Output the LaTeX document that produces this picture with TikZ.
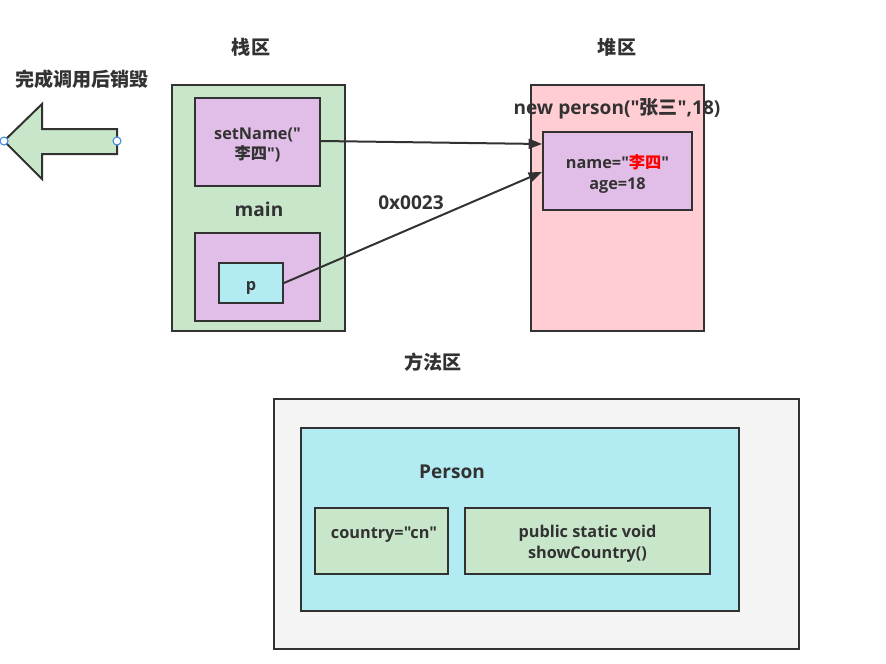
\documentclass[tikz,border=0pt]{standalone}
\usepackage{fontspec}
\setmainfont{Open Sans}[Ligatures=TeXOff]
\newfontfamily\cjk{Noto Sans CJK SC}
\usetikzlibrary{positioning, arrows.meta, fit}

\definecolor{linec}{HTML}{323232}
\definecolor{stackgreen}{HTML}{C8E6C9}
\definecolor{framepurple}{HTML}{E1BEE7}
\definecolor{refcyan}{HTML}{B2EBF2}
\definecolor{heappink}{HTML}{FFCDD2}
\definecolor{methodgray}{HTML}{F4F4F4}
\definecolor{handleblue}{HTML}{3D8FE0}

\begin{document}
\begin{tikzpicture}[
        x=0.75pt, y=-0.75pt,
        % --- styles ---
        area/.style={
                draw=linec,
                line width=1.5pt,
                inner sep=0pt
            },
        boxtext/.style={
                align=center,
                text=linec,
                font=\bfseries\fontsize{12.2}{15.5}\selectfont
            },
        bigtitle/.style={
                text=linec,
                font=\bfseries\fontsize{14.3}{17}\selectfont
            },
        ptr/.style={
                -{Triangle[length=10pt,width=7.5pt]},
                line width=1.5pt,
                draw=linec
            },
        handle/.style={
                circle,
                draw=handleblue,
                fill=white,
                inner sep=0pt,
                minimum size=6pt,
                line width=0.8pt
            }
    ]
    \useasboundingbox (0,0) rectangle (886,664);

    % 1. titles
    \node[bigtitle] (stacktitle) at (251,47) {\cjk 栈区};
    \node[bigtitle] (heaptitle) at (617,47) {\cjk 堆区};
    \node[bigtitle] (destroytitle) at (82,79) {\cjk 完成调用后销毁};
    \node[bigtitle] (methodtitle) at (433,362) {\cjk 方法区};

    % 2. return arrow (left)
    \draw[line width=1.5pt, draw=linec, fill=stackgreen]
    (4,141) -- (42,104) -- (42,129) -- (117,129) -- (117,154)
    -- (42,154) -- (42,179) -- cycle;
    \node[handle] (tiphandle) at (4,141) {};
    \node[handle] (endhandle) at (117,141) {};

    % 3. stack
    \node[area, fill=stackgreen, fit={(172,85) (345,331)}] (stack) {};
    \node[area, fill=framepurple, fit={(195,98) (320,186)}] (setname) {};
    \node[boxtext] (setnametext) at (257.5,145) {setName("\\{\cjk 李四}")};
    \node[bigtitle] (maintitle) at (259,209) {main};
    \node[area, fill=framepurple, fit={(195,233) (320,321)}] (mainframe) {};
    \node[area, fill=refcyan, fit={(219,263) (283,303)}] (pref) {};
    \node[boxtext] (ptext) at (251,288) {p};

    % 4. heap
    \node[area, fill=heappink, fit={(531,85) (704,331)}] (heap) {};
    \node[bigtitle] (newperson) at (617,109) {new person("{\cjk 张三}",18)};
    \node[area, fill=framepurple, fit={(543,132) (692,210)}] (obj) {};
    \node[boxtext] (objtext) at (617.5,174)
    {name="\textcolor{red}{\cjk 李四}"\\age=18};

    % 5. references
    \draw[ptr] (setname.east |- 0,141) -- (obj.west |- 0,144);
    \draw[ptr] (pref.east) -- (obj.west |- 0,172);
    \node[bigtitle] (addr) at (411,203) {0x0023};

    % 6. method area
    \node[area, fill=methodgray, fit={(274,399) (799,649)}] (method) {};
    \node[area, fill=refcyan, fit={(301,428) (739,611)}] (person) {};
    \node[bigtitle] (persontitle) at (452,472) {Person};
    \node[area, fill=stackgreen, fit={(315,508) (448,574)}] (country) {};
    \node[boxtext] (countrytext) at (384,535) {country="cn"};
    \node[area, fill=stackgreen, fit={(465,508) (710,574)}] (showc) {};
    \node[boxtext] (showctext) at (587.5,544) {public static void\\showCountry()};

\end{tikzpicture}
\end{document}
